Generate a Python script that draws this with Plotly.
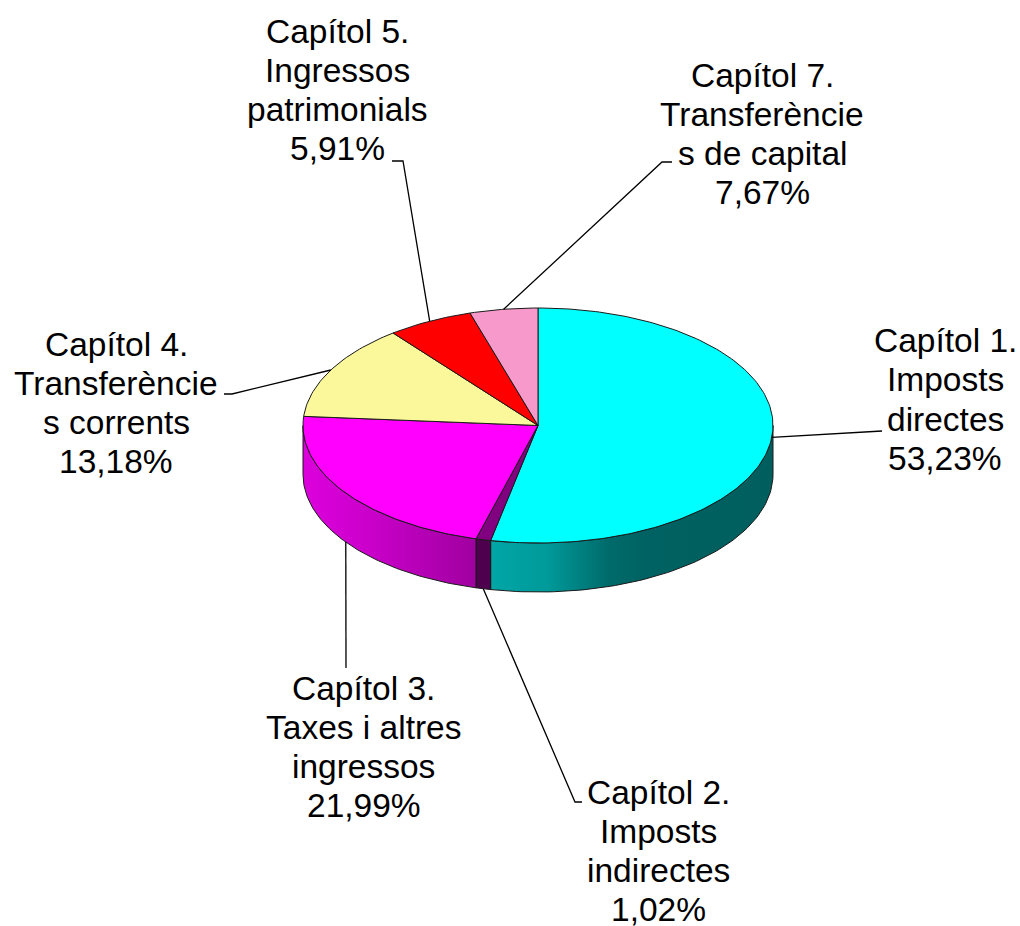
import numpy as np
import plotly.graph_objects as go

# ---------------- data ----------------
categories = ["Capítol 1.", "Capítol 2.", "Capítol 3.", "Capítol 4.", "Capítol 5.", "Capítol 7."]
descriptions = [
    ["Imposts", "directes"],
    ["Imposts", "indirectes"],
    ["Taxes i altres", "ingressos"],
    ["Transferèncie", "s corrents"],
    ["Ingressos", "patrimonials"],
    ["Transferèncie", "s de capital"],
]
pct_labels = ["53,23%", "1,02%", "21,99%", "13,18%", "5,91%", "7,67%"]
values = [53.23, 1.02, 21.99, 13.18, 5.91, 4.67]   # slice shares as drawn

# ---------------- styles / geometry ----------------
top_colors = ["#00FFFF", "#800080", "#FF00FF", "#FAF89A", "#FF0000", "#F799CB"]
side_scales = [
    [[0, "#00a6a6"], [0.2, "#009a9a"], [0.42, "#006a6a"], [0.55, "#006262"], [1, "#005e5e"]],
    [[0, "#4e004e"], [1, "#4e004e"]],
    [[0, "#dc00dc"], [0.35, "#cc00cc"], [1, "#a000a0"]],
    [[0, "#b0b060"], [1, "#b0b060"]],
    [[0, "#990000"], [1, "#990000"]],
    [[0, "#a06080"], [1, "#a06080"]],
]
CX, CY, RX, RY, DEPTH = 538.0, 425.5, 235.0, 117.5, 49.0
W, H = 1020, 926
EDGE = "#1a1a1a"
FONT = dict(family="Liberation Sans, Arial, sans-serif", size=33.5, color="black")
LINE_GAP = 39.3

# label block: centre x, y of first line; leader: attach at top/bottom, elbow point, end point
label_pos = [(945, 340.5), (658, 792), (363.5, 688), (116, 344), (337.5, 31), (762, 75)]
leader_attach = ["top", "bottom", "bottom", "top", "top", "top"]
leader_elbow = [(873, 431), (575, 802), (346, 668), (232, 394), (403, 161), (662, 162)]
leader_end = [(882, 431), (582, 802), (346, 668), (224, 394), (392, 161), (672, 162)]


def ell(theta_deg, dy=0.0):
    t = np.radians(theta_deg)
    return CX + RX * np.cos(t), CY - RY * np.sin(t) + dy


fig = go.Figure()

total = float(sum(values))
starts, ends = [], []
cum = 0.0
for v in values:
    a0 = 90 - cum / total * 360
    cum += v
    a1 = 90 - cum / total * 360
    starts.append(a0)
    ends.append(a1)

# side faces (front half only: angles between -180 and 0)
for i in range(len(values)):
    hi = min(starts[i], 0.0)
    lo = max(ends[i], -180.0)
    if lo >= hi:
        continue
    th = np.linspace(hi, lo, 80)
    xt, yt = ell(th)
    xb, yb = ell(th[::-1], DEPTH)
    xs = np.concatenate([xt, xb, xt[:1]])
    ys = np.concatenate([yt, yb, yt[:1]])
    fig.add_trace(go.Scatter(
        x=xs, y=ys, mode="lines", fill="toself",
        fillgradient=dict(type="horizontal", colorscale=side_scales[i]),
        line=dict(color=EDGE, width=1), hoverinfo="skip", showlegend=False))

# top faces
for i in range(len(values)):
    n = max(6, int(abs(starts[i] - ends[i]) / 1.0))
    th = np.linspace(starts[i], ends[i], n)
    xa, ya = ell(th)
    xs = np.concatenate([[CX], xa, [CX]])
    ys = np.concatenate([[CY], ya, [CY]])
    fig.add_trace(go.Scatter(
        x=xs, y=ys, mode="lines", fill="toself", fillcolor=top_colors[i],
        line=dict(color=EDGE, width=1), hoverinfo="skip", showlegend=False))

# leader lines
for i in range(len(values)):
    mid = (starts[i] + ends[i]) / 2
    dy = DEPTH if leader_attach[i] == "bottom" else 0.0
    x0, y0 = ell(mid, dy)
    xs = [x0, leader_elbow[i][0], leader_end[i][0]]
    ys = [y0, leader_elbow[i][1], leader_end[i][1]]
    fig.add_trace(go.Scatter(x=xs, y=ys, mode="lines", line=dict(color="black", width=1.3),
                             hoverinfo="skip", showlegend=False))

# labels (one annotation per line for tight line spacing)
for i in range(len(values)):
    lines = [categories[i]] + descriptions[i] + [pct_labels[i]]
    lx, ly = label_pos[i]
    for k, t in enumerate(lines):
        fig.add_annotation(x=lx, y=ly + k * LINE_GAP, text=t, showarrow=False,
                           xanchor="center", yanchor="middle", font=FONT)

fig.update_layout(
    width=W, height=H, autosize=False,
    margin=dict(l=0, r=0, t=0, b=0),
    paper_bgcolor="white", plot_bgcolor="white",
    xaxis=dict(range=[0, W], visible=False, fixedrange=True),
    yaxis=dict(range=[H, 0], visible=False, fixedrange=True),
    showlegend=False,
)

fig.write_html(
    "out.html",
    config={"displayModeBar": False},
    post_script="document.body.style.margin='0';document.body.style.overflow='hidden';",
)
